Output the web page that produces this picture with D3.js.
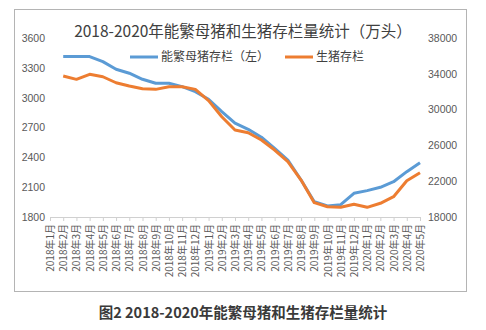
<!DOCTYPE html>
<html><head><meta charset="utf-8">
<script src="https://cdn.jsdelivr.net/npm/d3@7/dist/d3.min.js"></script>
<style>
html,body{margin:0;padding:0;background:#fff;}
svg{display:block;}
</style></head>
<body>
<script>
const categories = ["2018年1月","2018年2月","2018年3月","2018年4月","2018年5月","2018年6月","2018年7月","2018年8月","2018年9月","2018年10月","2018年11月","2018年12月",
"2019年1月","2019年2月","2019年3月","2019年4月","2019年5月","2019年6月","2019年7月","2019年8月","2019年9月","2019年10月","2019年11月","2019年12月",
"2020年1月","2020年2月","2020年3月","2020年4月","2020年5月"];
const sowStock = [null,3413,3413,3413,3362,3286,3246,3185,3145,3145,3111,3060,
2984,2859,2743,2682,2602,2491,2373,2172,1954,1911,1924,2038,
2065,2099,2155,2256,2346];
const hogStock = [null,33750,33380,33940,33670,33000,32630,32330,32260,32550,32550,32260,
31000,29200,27720,27420,26600,25480,24180,22130,19600,19150,19080,19420,
19080,19530,20270,22050,22950];
const leftTicks = [1800,2100,2400,2700,3000,3300,3600];
const rightTicks = [18000,22000,26000,30000,34000,38000];
const seriesNames = ["能繁母猪存栏（左）","生猪存栏"];
const titleText = "2018-2020年能繁母猪和生猪存栏量统计（万头）";
const captionText = "图2 2018-2020年能繁母猪和生猪存栏量统计";

const W = 486, H = 330;
const svg = d3.select("body").append("svg").attr("width", W).attr("height", H);
const font = "'Liberation Sans', Arial, 'Noto Sans CJK SC', sans-serif";
const cjk = "'Noto Sans CJK SC', 'Liberation Sans', sans-serif";

svg.append("rect").attr("x", 14.5).attr("y", 9.5).attr("width", 452).attr("height", 282)
  .attr("fill", "#fff").attr("stroke", "#b4b4b4").attr("stroke-width", 1);

const x = d3.scalePoint().domain(categories).range([50, 420]);
const yL = d3.scaleLinear().domain([1800, 3600]).range([217, 38]);
const yR = d3.scaleLinear().domain([18000, 38000]).range([217, 38]);

// left axis
const gL = svg.append("g").attr("transform", "translate(45,0)")
  .call(d3.axisLeft(yL).tickValues(leftTicks).tickSize(0).tickPadding(0).tickFormat(d3.format("d")));
gL.select(".domain").remove();
gL.selectAll("text").attr("font-family", font).attr("font-size", 10.5).attr("fill", "#595959");

// right axis
const gR = svg.append("g").attr("transform", "translate(428,0)")
  .call(d3.axisRight(yR).tickValues(rightTicks).tickSize(0).tickPadding(0).tickFormat(d3.format("d")));
gR.select(".domain").remove();
gR.selectAll("text").attr("font-family", font).attr("font-size", 10.5).attr("fill", "#595959");

// x axis
const gX = svg.append("g").attr("transform", "translate(0,217)")
  .call(d3.axisBottom(x).tickSizeInner(4).tickSizeOuter(0).tickPadding(5));
gX.select(".domain").attr("stroke", "#d0d0d0");
gX.selectAll(".tick line").attr("stroke", "#d0d0d0");
gX.selectAll("text").attr("font-family", cjk).attr("font-size", 10).attr("fill", "#595959")
  .attr("text-anchor", "end").attr("dy", "0.35em")
  .attr("transform", "translate(0,7) rotate(-90)").attr("x", 0).attr("y", 0);

// lines
const lineL = d3.line().defined(d => d[1] != null).x(d => x(d[0])).y(d => yL(d[1]));
const lineR = d3.line().defined(d => d[1] != null).x(d => x(d[0])).y(d => yR(d[1]));
svg.append("path").datum(categories.map((c, i) => [c, sowStock[i]]))
  .attr("d", lineL).attr("fill", "none").attr("stroke", "#5B9BD5").attr("stroke-width", 3)
  .attr("stroke-linejoin", "round");
svg.append("path").datum(categories.map((c, i) => [c, hogStock[i]]))
  .attr("d", lineR).attr("fill", "none").attr("stroke", "#ED7D31").attr("stroke-width", 3)
  .attr("stroke-linejoin", "round");

// title
svg.append("text").attr("x", 243).attr("y", 37).attr("text-anchor", "middle")
  .attr("font-family", cjk).attr("font-size", 15.5).attr("fill", "#404040").text(titleText);

// legend
const leg = [{x: 130, c: "#5B9BD5", t: seriesNames[0]}, {x: 285, c: "#ED7D31", t: seriesNames[1]}];
leg.forEach(l => {
  svg.append("line").attr("x1", l.x).attr("x2", l.x + 28).attr("y1", 57).attr("y2", 57)
    .attr("stroke", l.c).attr("stroke-width", 3);
  svg.append("text").attr("x", l.x + 31).attr("y", 57).attr("dy", "0.35em")
    .attr("font-family", cjk).attr("font-size", 12).attr("fill", "#404040").text(l.t);
});

// caption
svg.append("text").attr("x", 243).attr("y", 318).attr("text-anchor", "middle")
  .attr("font-family", cjk).attr("font-weight", "bold").attr("font-size", 14.5)
  .attr("fill", "#3a3a3a").text(captionText);
</script>
</body></html>
